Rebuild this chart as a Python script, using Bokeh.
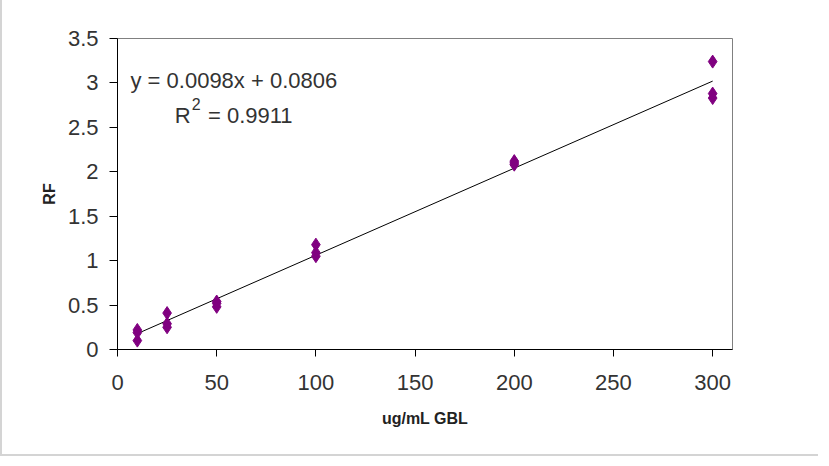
from bokeh.plotting import figure
from bokeh.models import Range1d, FixedTicker, Label, ColumnDataSource, NumeralTickFormatter
from bokeh.embed import file_html
from bokeh.resources import INLINE

# ---- data ----
conc = [10, 10, 10, 25, 25, 25, 50, 50, 50, 100, 100, 100, 200, 200, 200, 300, 300, 300]
rf = [0.22, 0.19, 0.10, 0.41, 0.29, 0.25, 0.54, 0.52, 0.48, 1.18, 1.09, 1.05,
      2.12, 2.10, 2.08, 3.24, 2.88, 2.83]
slope = 0.0098
intercept = 0.0806
trend_x = [10, 300]
x_ticks = [0, 50, 100, 150, 200, 250, 300]
y_ticks = [0, 0.5, 1, 1.5, 2, 2.5, 3, 3.5]
eq_text = "y = 0.0098x + 0.0806"
r2_parts = ["R", "2", " = 0.9911"]
x_title = "ug/mL GBL"
y_title = "RF"

trend_y = [slope * x + intercept for x in trend_x]

FONT = "Liberation Sans"
TXT = "#333333"

p = figure(width=818, height=456, x_range=Range1d(0, 310), y_range=Range1d(0, 3.5),
           output_backend="svg", toolbar_location=None,
           min_border_left=115, min_border_right=88, min_border_top=38, min_border_bottom=107)
p.styles = {"border-left": "2px solid #d4d4d4", "border-bottom": "2px solid #d4d4d4"}
p.background_fill_color = "white"
p.border_fill_color = "white"
p.outline_line_color = "#808080"
p.outline_line_width = 1
p.xgrid.visible = False
p.ygrid.visible = False

src = ColumnDataSource(dict(x=conc, y=rf))
p.line(trend_x, trend_y, line_color="black", line_width=1)
p.scatter(x="x", y="y", source=src, marker="diamond", size=13,
          fill_color="#800080", line_color="#800080")

for ax in (p.xaxis[0], p.yaxis[0]):
    ax.axis_line_color = "black"
    ax.major_tick_line_color = "black"
    ax.major_tick_in = 0
    ax.minor_tick_line_color = None
    ax.major_label_text_font = FONT
    ax.major_label_text_font_size = "22px"
    ax.major_label_text_color = TXT
    ax.axis_label_text_font = FONT
    ax.axis_label_text_font_size = "16px"
    ax.axis_label_text_font_style = "bold"
    ax.axis_label_text_color = "#222222"

p.xaxis.ticker = FixedTicker(ticks=x_ticks)
p.yaxis.ticker = FixedTicker(ticks=y_ticks)
p.yaxis.formatter = NumeralTickFormatter(format="0.[0]")
p.xaxis.major_tick_out = 7
p.yaxis.major_tick_out = 8
p.xaxis.major_label_standoff = 18
p.yaxis.major_label_standoff = 11
p.xaxis.axis_label = x_title
p.yaxis.axis_label = y_title
p.xaxis.axis_label_standoff = 17
p.yaxis.axis_label_standoff = 7

p.add_layout(Label(x=6.55, y=3.024, text=eq_text, text_font=FONT, text_font_size="22px",
                   text_color=TXT, text_baseline="alphabetic"))
p.add_layout(Label(x=28.9, y=2.63, text=r2_parts[0], text_font=FONT, text_font_size="22px",
                   text_color=TXT, text_baseline="alphabetic"))
p.add_layout(Label(x=37.4, y=2.76, text=r2_parts[1], text_font=FONT, text_font_size="16px",
                   text_color=TXT, text_baseline="alphabetic"))
p.add_layout(Label(x=45.6, y=2.63, text=r2_parts[2], text_font=FONT, text_font_size="22px",
                   text_color=TXT, text_baseline="alphabetic"))

open("out.html", "w").write(file_html(p, INLINE))
